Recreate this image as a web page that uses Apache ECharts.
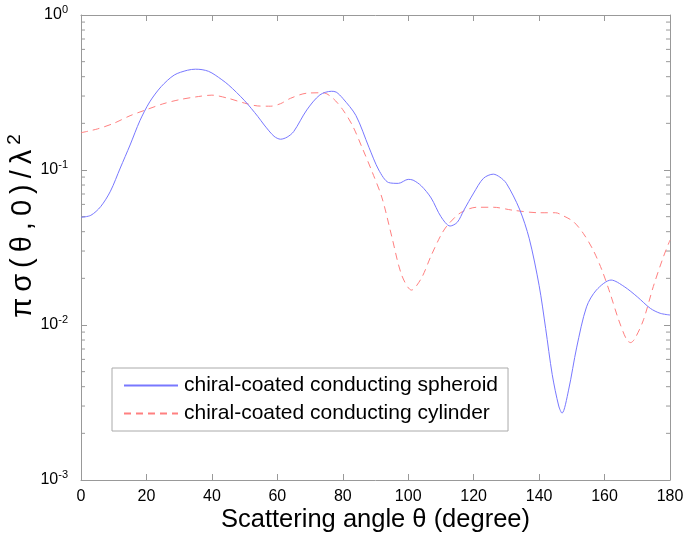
<!DOCTYPE html>
<html>
<head>
<meta charset="utf-8">
<script src="https://cdn.jsdelivr.net/npm/echarts@6/dist/echarts.min.js"></script>
<style>html,body{margin:0;padding:0;background:#fff}#c{width:685px;height:536px}</style>
</head>
<body>
<div id="c"></div>
<script>
// Scattering angle (degree) and values for the spheroid curve
const thetaSpheroid = [0,3,6,9,12,15,18,21,24.5,28.5,32.5,35,37,39,41,45,50,54,56,59,61,63,65,69,73,76.5,78,80,84,88,91,94,97,100,101.5,104,107,110,112.8,115,117,120,123,126,128,130,134,137,140,142,144,146,147,149,151.5,154.5,157.5,162,166,170,174,177,180];
const spheroid = [0.0495,0.051,0.058,0.073,0.103,0.145,0.208,0.275,0.345,0.41,0.44,0.447,0.444,0.433,0.41,0.355,0.28,0.222,0.195,0.165,0.158,0.163,0.177,0.244,0.305,0.322,0.318,0.29,0.225,0.14,0.1,0.083,0.082,0.087,0.086,0.079,0.066,0.05,0.0435,0.046,0.055,0.071,0.0884,0.094,0.09,0.082,0.056,0.036,0.018,0.0095,0.0048,0.003,0.0027,0.0038,0.0072,0.0131,0.0168,0.0195,0.0177,0.0152,0.0128,0.0119,0.0116];
// Scattering angle (degree) and values for the cylinder curve
const thetaCylinder = [0,5,10,15,20,25,30,35,40,45,50,54,58,61,64,69,74,77,80,83,86,89,92,95,98,101,104,107,110,112,116,121,126,132,140,145,147.5,150.5,153.5,156.5,159.2,161.7,164.3,166.8,168,169.3,171.9,174.9,178,180];
const cylinder = [0.174,0.184,0.2,0.224,0.245,0.267,0.284,0.296,0.304,0.29,0.27,0.259,0.258,0.268,0.29,0.313,0.315,0.29,0.245,0.193,0.138,0.097,0.066,0.037,0.021,0.0168,0.02,0.028,0.038,0.044,0.053,0.0575,0.0575,0.055,0.053,0.053,0.0505,0.0464,0.039,0.0305,0.0226,0.016,0.0108,0.008,0.0077,0.0082,0.0108,0.0177,0.0276,0.0353];
const seriesNames = ['chiral-coated conducting spheroid','chiral-coated conducting cylinder'];
const xTicks = [0,20,40,60,80,100,120,140,160,180];
const yTickExponents = [-3,-2,-1,0];
const yMinorTicks = [0.002,0.003,0.004,0.005,0.006,0.007,0.008,0.009,0.02,0.03,0.04,0.05,0.06,0.07,0.08,0.09,0.2,0.3,0.4,0.5,0.6,0.7,0.8,0.9];

const FONT = 'Liberation Sans, Arial, sans-serif';
const AX = '#999999';
const chart = echarts.init(document.getElementById('c'), null, {renderer:'canvas'});

const pairs = (xs, ys) => xs.map((x, i) => [x, ys[i]]);

const yName = ['π','σ','(','θ',',','0',')','/','λ'].map(c => '{g|' + c + '}').join('') + '{sup|2}';

chart.setOption({
  animation: false,
  backgroundColor: '#fff',
  grid: {left: 81, top: 15, right: 15, bottom: 56, show: false, containLabel: false, outerBoundsMode: 'none'},
  legend: {
    orient: 'vertical', left: 112, top: 368,
    data: seriesNames,
    itemWidth: 54, itemHeight: 14, itemGap: 7,
    padding: [7, 10, 7, 11],
    borderColor: '#aaaaaa', borderWidth: 1, borderRadius: 0,
    backgroundColor: '#fff',
    itemStyle: {opacity: 0},
    lineStyle: {opacity: 1},
    textStyle: {fontFamily: FONT, fontSize: 21, color: '#000', lineHeight: 21, padding: [0,0,0,1]}
  },
  xAxis: [{
    type: 'value', min: 0, max: 180, interval: 20,
    axisLine: {show: true, lineStyle: {color: AX}},
    axisTick: {show: true, inside: true, length: 6, lineStyle: {color: AX}},
    splitLine: {show: false},
    axisLabel: {margin: 9, fontFamily: FONT, fontSize: 16, color: '#000',
      formatter: v => xTicks.includes(v) ? String(v) : ''},
    name: 'Scattering angle θ (degree)', nameLocation: 'middle', nameGap: 27,
    nameMoveOverlap: false,
    nameTextStyle: {fontFamily: FONT, fontSize: 25.5, color: '#000'}
  }, {
    type: 'value', min: 0, max: 180, interval: 20, position: 'top',
    axisLine: {show: true, onZero: false, lineStyle: {color: AX}},
    axisTick: {show: true, inside: true, length: 6, lineStyle: {color: AX}},
    axisLabel: {show: false}, splitLine: {show: false}
  }],
  yAxis: [{
    type: 'log', logBase: 10, min: 0.001, max: 1,
    axisLine: {show: true, onZero: false, lineStyle: {color: AX}},
    axisTick: {show: true, inside: true, length: 6, lineStyle: {color: AX}},
    splitLine: {show: false},
    axisLabel: {
      margin: 13,
      formatter: v => {
        const e = Math.round(Math.log10(v));
        return yTickExponents.includes(e) ? '{b|10}{s|' + e + '}' : '';
      },
      rich: {
        b: {fontFamily: FONT, fontSize: 16, color: '#000'},
        s: {fontFamily: FONT, fontSize: 11, color: '#000', padding: [0, 0, 10, 0]}
      }
    },
    name: yName, nameLocation: 'middle', nameGap: 41, nameRotate: 90,
    nameMoveOverlap: false,
    nameTextStyle: {
      padding: [0, 0, 0, 40],
      rich: {
        g: {fontFamily: FONT, fontSize: 29, color: '#000', padding: [0, 3, 0, 3]},
        sup: {fontFamily: FONT, fontSize: 19, color: '#000', padding: [0, 0, 16, 2]}
      }
    }
  }, {
    type: 'log', logBase: 10, min: 0.001, max: 1, position: 'right',
    axisLine: {show: true, onZero: false, lineStyle: {color: AX}},
    axisTick: {show: true, inside: true, length: 6, lineStyle: {color: AX}},
    axisLabel: {show: false}, splitLine: {show: false}
  }],
  series: [{
    name: seriesNames[0], type: 'line', xAxisIndex: 0, yAxisIndex: 0,
    data: pairs(thetaSpheroid, spheroid),
    showSymbol: false, symbol: 'none', smooth: 0.3,
    lineStyle: {color: '#7878ff', width: 1, type: 'solid'},
    itemStyle: {color: '#7878ff'}, z: 3
  }, {
    name: seriesNames[1], type: 'line', xAxisIndex: 0, yAxisIndex: 0,
    data: pairs(thetaCylinder, cylinder),
    showSymbol: false, symbol: 'none', smooth: 0.3,
    lineStyle: {color: '#ff8080', width: 1, type: [7, 5]},
    itemStyle: {color: '#ff8080'}, z: 2
  }, {
    name: 'minorTicks', type: 'custom', xAxisIndex: 0, yAxisIndex: 0, silent: true,
    data: yMinorTicks.map(v => [0, v]),
    encode: {x: 0, y: 1},
    renderItem: (params, api) => {
      const p = api.coord([0, api.value(1)]);
      const cs = params.coordSys;
      const st = {stroke: AX, lineWidth: 1};
      return {type: 'group', children: [
        {type: 'line', shape: {x1: cs.x, y1: p[1], x2: cs.x + 4, y2: p[1]}, style: st},
        {type: 'line', shape: {x1: cs.x + cs.width, y1: p[1], x2: cs.x + cs.width - 4, y2: p[1]}, style: st}
      ]};
    }
  }]
});
</script>
</body>
</html>
